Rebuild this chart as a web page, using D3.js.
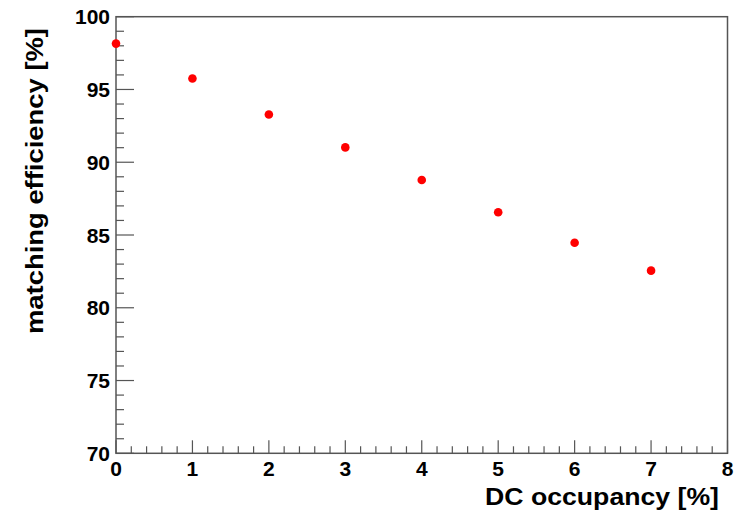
<!DOCTYPE html>
<html>
<head>
<meta charset="utf-8">
<script src="https://cdn.jsdelivr.net/npm/d3@7"></script>
<style>
  html, body { margin: 0; padding: 0; background: #fff; }
  svg { display: block; }
  text { font-family: "Liberation Sans", Arial, Helvetica, sans-serif; font-weight: bold; fill: #000; }
</style>
</head>
<body>
<svg id="chart" width="740" height="512"></svg>
<script>
// DC occupancy [%] vs. track matching efficiency [%]
const occupancy = [0, 1, 2, 3, 4, 5, 6, 7];
const efficiency = [98.15, 95.75, 93.28, 91.02, 88.78, 86.56, 84.47, 82.55];
const xTicks = [0, 1, 2, 3, 4, 5, 6, 7, 8];
const yTicks = [70, 75, 80, 85, 90, 95, 100];

const svg = d3.select("#chart");
const frame = { left: 116, right: 727.5, top: 16.7, bottom: 453.3 };

const x = d3.scaleLinear().domain([0, 8]).range([frame.left, frame.right]);
const y = d3.scaleLinear().domain([70, 100]).range([frame.bottom, frame.top]);

const axisColor = "#555";

// Frame
svg.append("rect")
  .attr("x", frame.left).attr("y", frame.top)
  .attr("width", frame.right - frame.left).attr("height", frame.bottom - frame.top)
  .attr("fill", "none").attr("stroke", axisColor).attr("stroke-width", 1.5);

// X axis: major ticks every 1, minor every 0.2
const xAxisG = svg.append("g").attr("transform", `translate(0,${frame.bottom})`);
const xMinor = d3.range(0, 8.0001, 0.2).filter(v => Math.abs(v - Math.round(v)) > 1e-6);
xAxisG.selectAll("line.minor").data(xMinor).join("line")
  .attr("x1", d => x(d)).attr("x2", d => x(d))
  .attr("y1", 0).attr("y2", -7)
  .attr("stroke", axisColor).attr("stroke-width", 1.2);
xAxisG.selectAll("line.major").data(xTicks).join("line")
  .attr("x1", d => x(d)).attr("x2", d => x(d))
  .attr("y1", 0).attr("y2", -13)
  .attr("stroke", axisColor).attr("stroke-width", 1.2);
xAxisG.selectAll("text").data(xTicks).join("text")
  .attr("x", d => x(d)).attr("y", 22.5)
  .attr("text-anchor", "middle")
  .attr("font-size", 21)
  .text(d => d);

// Y axis: major ticks every 5, minor every 1
const yAxisG = svg.append("g").attr("transform", `translate(${frame.left},0)`);
const yMinor = d3.range(70, 100.0001, 1).filter(v => v % 5 !== 0);
yAxisG.selectAll("line.minor").data(yMinor).join("line")
  .attr("x1", 0).attr("x2", 8)
  .attr("y1", d => y(d)).attr("y2", d => y(d))
  .attr("stroke", axisColor).attr("stroke-width", 1.2);
yAxisG.selectAll("line.major").data(yTicks).join("line")
  .attr("x1", 0).attr("x2", 18)
  .attr("y1", d => y(d)).attr("y2", d => y(d))
  .attr("stroke", axisColor).attr("stroke-width", 1.2);
yAxisG.selectAll("text").data(yTicks).join("text")
  .attr("x", -6).attr("y", d => y(d) + 7.5)
  .attr("text-anchor", "end")
  .attr("font-size", 21)
  .text(d => d);

// Axis titles (wide bold face, stretched to the title width)
svg.append("text")
  .attr("x", 485).attr("y", 504.5)
  .attr("text-anchor", "start")
  .attr("font-size", 24)
  .attr("textLength", 234)
  .attr("lengthAdjust", "spacingAndGlyphs")
  .text("DC occupancy [%]");

svg.append("text")
  .attr("transform", `translate(43,334) rotate(-90)`)
  .attr("text-anchor", "start")
  .attr("font-size", 24)
  .attr("textLength", 306)
  .attr("lengthAdjust", "spacingAndGlyphs")
  .text("matching efficiency [%]");

// Data points
svg.append("g").selectAll("circle")
  .data(occupancy.map((o, i) => [o, efficiency[i]]))
  .join("circle")
  .attr("cx", d => x(d[0])).attr("cy", d => y(d[1]))
  .attr("r", 4.3)
  .attr("fill", "#ff0000");
</script>
</body>
</html>
